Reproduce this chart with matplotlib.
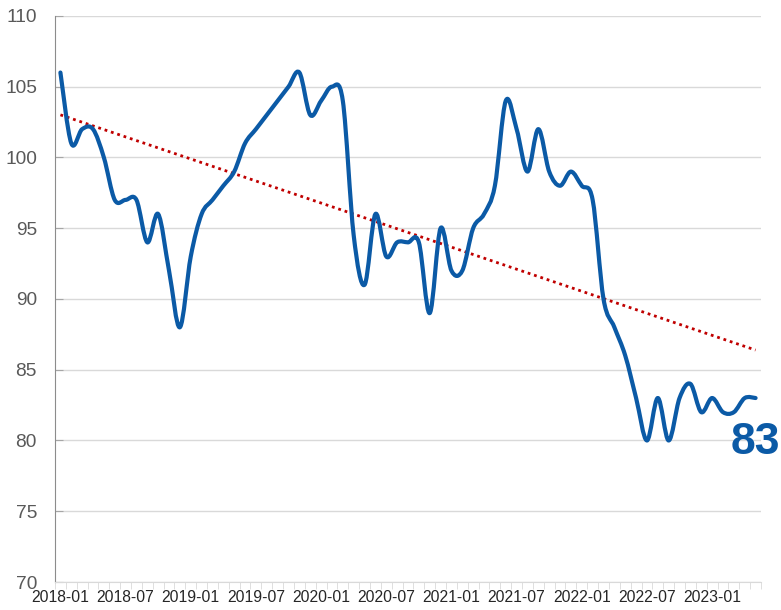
import matplotlib
matplotlib.use('Agg')
import matplotlib.pyplot as plt
import numpy as np
from matplotlib.path import Path
from matplotlib.patches import PathPatch

# monthly values, 2018-01 .. 2023-05
months = [f'{y}-{m:02d}' for y in range(2018, 2024) for m in range(1, 13)][:65]
values = [106, 101, 102, 102, 100, 97, 97, 97, 94, 96, 92, 88,
          93, 96, 97, 98, 99, 101, 102, 103, 104, 105, 106, 103,
          104, 105, 104, 94.5, 91, 96, 93, 94, 94, 94, 89, 95,
          92, 92, 95, 96, 98, 104, 102, 99, 102, 99, 98, 99,
          98, 97, 90, 88, 86, 83, 80, 83, 80, 83, 84, 82,
          83, 82, 82, 83, 83]
last_label = '83'

blue = '#0B5AA6'
red = '#C00000'
grey = '#595959'

plt.rcParams['font.family'] = ['Liberation Sans', 'DejaVu Sans']

fig = plt.figure(figsize=(7.81, 6.10), dpi=100)
ax = fig.add_axes([0.0704, 0.0459, 0.904, 0.928])

x = np.arange(len(values))
y = np.array(values, dtype=float)

# smoothed line (bezier segments through each point, like a spreadsheet "smooth line")
px = np.concatenate([[x[0]], x, [x[-1]]])
py = np.concatenate([[y[0]], y, [y[-1]]])
verts = [(x[0], y[0])]
codes = [Path.MOVETO]
for i in range(1, len(px) - 2):
    c1 = (px[i] + (px[i + 1] - px[i - 1]) / 6, py[i] + (py[i + 1] - py[i - 1]) / 6)
    c2 = (px[i + 1] - (px[i + 2] - px[i]) / 6, py[i + 1] - (py[i + 2] - py[i]) / 6)
    verts += [c1, c2, (px[i + 1], py[i + 1])]
    codes += [Path.CURVE4] * 3
ax.add_patch(PathPatch(Path(verts, codes), facecolor='none', edgecolor=blue,
                       lw=3, capstyle='round', joinstyle='round', zorder=3))

# linear trend
k, b = np.polyfit(x, y, 1)
ax.plot(x, k * x + b, color=red, lw=2, linestyle=(0, (1, 1.4)), zorder=2)

ax.text(x[-1], 79.85, last_label, color=blue, fontsize=32, fontweight='bold',
        ha='center', va='center', zorder=4, clip_on=False)

ax.set_xlim(-0.5, len(values) - 0.5)
ax.set_ylim(70, 110)
ax.set_yticks(np.arange(70, 111, 5))
ax.grid(axis='y', color='#D9D9D9', lw=1)
ax.set_axisbelow(True)

ax.set_xticks(x[::6])
ax.set_xticklabels(months[::6])
ax.set_xticks(np.arange(-0.5, len(values), 1), minor=True)
ax.tick_params(axis='x', which='major', length=0, pad=6, labelsize=11.3, labelcolor='#262626')
ax.tick_params(axis='x', which='minor', length=5, color='#D9D9D9', direction='out')
ax.tick_params(axis='y', length=6, direction='in', color='#A6A6A6', pad=13,
               labelsize=13.8, labelcolor=grey)

for s in ['top', 'right']:
    ax.spines[s].set_visible(False)
ax.spines['left'].set_color('#8C8C8C')
ax.spines['bottom'].set_color('#D9D9D9')

fig.savefig('out.png', dpi=100)
